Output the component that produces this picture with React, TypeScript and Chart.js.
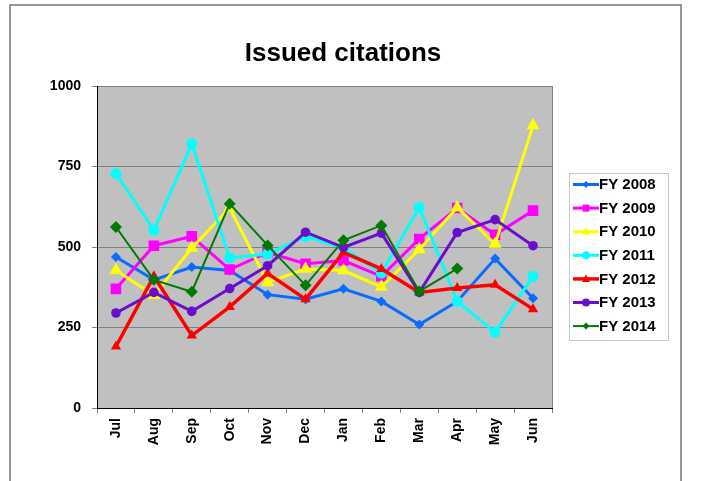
import React, { useEffect, useRef } from "react";
import { Chart, registerables } from "chart.js";

Chart.register(...registerables);

const months = ["Jul", "Aug", "Sep", "Oct", "Nov", "Dec", "Jan", "Feb", "Mar", "Apr", "May", "Jun"];
const yTicks = [0, 250, 500, 750, 1000];
const seriesNames = ["FY 2008", "FY 2009", "FY 2010", "FY 2011", "FY 2012", "FY 2013", "FY 2014"];

const fy2008 = [469, 398, 438, 427, 352, 338, 370, 331, 259, 331, 464, 341];
const fy2009 = [370, 504, 533, 430, 483, 448, 458, 409, 525, 621, 538, 613];
const fy2010 = [428, 350, 497, 621, 390, 432, 427, 376, 492, 623, 509, 877];
const fy2011 = [728, 552, 820, 466, 478, 533, 497, 419, 623, 331, 235, 409];
const fy2012 = [191, 409, 225, 314, 418, 338, 483, 432, 359, 373, 383, 307];
const fy2013 = [295, 359, 300, 371, 442, 546, 499, 543, 359, 545, 585, 504];
const fy2014 = [562, 398, 361, 634, 505, 381, 521, 567, 362, 433, null, null];

const seriesValues = [fy2008, fy2009, fy2010, fy2011, fy2012, fy2013, fy2014];
const seriesColors = ["#0A6CFF", "#FF00FF", "#FFFF00", "#00FFFF", "#FF0000", "#6A0DCC", "#007A00"];
const seriesStyles = ["rectRot", "rect", "triangle", "circle", "triangle", "circle", "rectRot"];
const seriesRadius = [5, 7.5, 7.5, 5.5, 6, 4.8, 6];
const legendRadius = [3.5, 3.5, 4, 4, 4, 4, 3.5];
const seriesWidth = [3, 3, 3, 3, 3.5, 3, 2];

const FONT = "'Liberation Sans', Arial, sans-serif";

function drawMarker(ctx: CanvasRenderingContext2D, style: string, x: number, y: number, r: number, color: string) {
  ctx.save();
  ctx.fillStyle = color;
  ctx.beginPath();
  if (style === "circle") {
    ctx.arc(x, y, r, 0, Math.PI * 2);
  } else if (style === "rect") {
    ctx.rect(x - r, y - r, 2 * r, 2 * r);
  } else if (style === "triangle") {
    ctx.moveTo(x, y - r * 1.15);
    ctx.lineTo(x + r, y + r * 0.75);
    ctx.lineTo(x - r, y + r * 0.75);
    ctx.closePath();
  } else {
    ctx.moveTo(x, y - r);
    ctx.lineTo(x + r, y);
    ctx.lineTo(x, y + r);
    ctx.lineTo(x - r, y);
    ctx.closePath();
  }
  ctx.fill();
  ctx.restore();
}

const decorPlugin = {
  id: "decor",
  beforeDraw(chart: any) {
    const { ctx, chartArea } = chart;
    ctx.save();
    ctx.fillStyle = "#FFFFFF";
    ctx.fillRect(0, 0, chart.width, chart.height);
    ctx.fillStyle = "#C0C0C0";
    ctx.fillRect(chartArea.left, chartArea.top, chartArea.right - chartArea.left, chartArea.bottom - chartArea.top);
    // outer frame
    ctx.strokeStyle = "#777777";
    ctx.lineWidth = 1.5;
    ctx.beginPath();
    ctx.moveTo(10, 490);
    ctx.lineTo(10, 5);
    ctx.lineTo(681, 5);
    ctx.lineTo(681, 490);
    ctx.stroke();
    // title
    ctx.fillStyle = "#000000";
    ctx.font = `bold 26px ${FONT}`;
    ctx.textAlign = "center";
    ctx.textBaseline = "alphabetic";
    ctx.fillText("Issued citations", 343, 61);
    ctx.restore();
  },
  afterDraw(chart: any) {
    const { ctx, chartArea } = chart;
    ctx.save();
    // right border of plot
    ctx.strokeStyle = "#808080";
    ctx.lineWidth = 1;
    ctx.beginPath();
    ctx.moveTo(chartArea.right + 0.5, chartArea.top);
    ctx.lineTo(chartArea.right + 0.5, chartArea.bottom);
    ctx.stroke();
    // legend
    ctx.fillStyle = "#FFFFFF";
    ctx.fillRect(569, 173, 99, 167);
    ctx.strokeStyle = "#C8C8C8";
    ctx.strokeRect(569.5, 173.5, 99, 167);
    chart.data.datasets.forEach((ds: any, i: number) => {
      const y = 184.5 + i * 23.6;
      ctx.strokeStyle = ds.borderColor;
      ctx.lineWidth = ds.borderWidth;
      ctx.beginPath();
      ctx.moveTo(573, y);
      ctx.lineTo(599, y);
      ctx.stroke();
      drawMarker(ctx, ds.pointStyle, 586, y, legendRadius[i], ds.borderColor);
      ctx.fillStyle = "#000000";
      ctx.font = `bold 15px ${FONT}`;
      ctx.textAlign = "left";
      ctx.textBaseline = "middle";
      ctx.fillText(ds.label, 599, y + 0.5);
    });
    ctx.restore();
  },
};

export default function App() {
  const ref = useRef<HTMLCanvasElement | null>(null);
  useEffect(() => {
    if (!ref.current) return;
    const chart = new Chart(ref.current, {
      type: "line",
      data: {
        labels: months,
        datasets: seriesNames.map((name, i) => ({
          label: name,
          data: seriesValues[i],
          borderColor: seriesColors[i],
          backgroundColor: seriesColors[i],
          pointBackgroundColor: seriesColors[i],
          pointBorderColor: seriesColors[i],
          pointStyle: seriesStyles[i] as any,
          pointRadius: seriesRadius[i],
          pointBorderWidth: 0,
          borderWidth: seriesWidth[i],
          tension: 0,
          fill: false,
          spanGaps: false,
          order: 6 - i,
        })),
      },
      options: {
        responsive: false,
        animation: false,
        layout: { padding: { top: 86, left: 0, right: 150, bottom: 0 } },
        plugins: {
          legend: { display: false },
          title: { display: false },
          tooltip: { enabled: false },
        },
        scales: {
          x: {
            type: "category",
            offset: true,
            afterFit: (s: any) => {
              s.height = 73;
            },
            grid: {
              drawOnChartArea: false,
              drawTicks: true,
              tickLength: 5,
              tickColor: "#808080",
              offset: true,
            },
            border: { display: true, color: "#000000", width: 1 },
            ticks: {
              minRotation: 90,
              maxRotation: 90,
              autoSkip: false,
              padding: 5,
              color: "#000000",
              font: { family: FONT, size: 14, weight: "bold" },
            },
          },
          y: {
            min: 0,
            max: 1000,
            afterFit: (s: any) => {
              s.width = 97;
            },
            afterBuildTicks: (s: any) => {
              s.ticks = yTicks.map((v) => ({ value: v }));
            },
            grid: {
              color: (c: any) => (c.tick && c.tick.value === 0 ? "rgba(0,0,0,0)" : "#808080"),
              tickColor: "#808080",
              tickLength: 5,
              drawTicks: true,
            },
            border: { display: true, color: "#000000", width: 1 },
            ticks: {
              padding: 11,
              color: "#000000",
              callback: (v: any) => String(v),
              font: { family: FONT, size: 14, weight: "bold" },
            },
          },
        },
      },
      plugins: [decorPlugin],
    });
    return () => chart.destroy();
  }, []);
  return (
    <div style={{ position: "fixed", left: 0, top: 0, width: 702, height: 481, background: "#fff" }}>
      <canvas ref={ref} width={702} height={481} style={{ display: "block", width: 702, height: 481 }} />
    </div>
  );
}
